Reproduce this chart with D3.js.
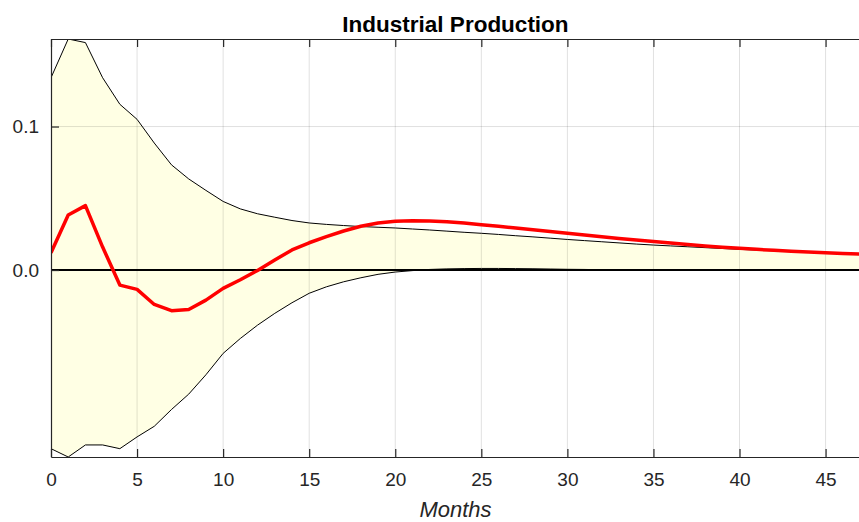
<!DOCTYPE html>
<html>
<head>
<meta charset="utf-8">
<script src="https://cdn.jsdelivr.net/npm/d3@7"></script>
<style>
  html, body { margin: 0; padding: 0; background: #ffffff; }
  svg { display: block; font-family: "Liberation Sans", Arial, Helvetica, sans-serif; }
</style>
</head>
<body>
<svg id="chart" width="859" height="522"></svg>
<script>
// Impulse response of industrial production, with its confidence band
const months = d3.range(0, 48);

const response = [
  0.0121, 0.0384, 0.0449, 0.0160, -0.0105, -0.0135, -0.0240, -0.0283, -0.0275, -0.0210,
  -0.0128, -0.0068, -0.0003, 0.0070, 0.0140, 0.0190, 0.0233, 0.0272, 0.0305, 0.0328,
  0.0340, 0.0344, 0.0342, 0.0336, 0.0327, 0.0316, 0.0305, 0.0293, 0.0281, 0.0268,
  0.0256, 0.0244, 0.0232, 0.0220, 0.0209, 0.0198, 0.0188, 0.0178, 0.0168, 0.0159,
  0.0151, 0.0144, 0.0137, 0.0131, 0.0126, 0.0121, 0.0116, 0.0111
];

const upperBand = [
  0.1340, 0.1610, 0.1585, 0.1340, 0.1155, 0.1050, 0.0885, 0.0733, 0.0635, 0.0555,
  0.0478, 0.0426, 0.0392, 0.0368, 0.0345, 0.0328, 0.0318, 0.0310, 0.0303, 0.0298,
  0.0293, 0.0286, 0.0279, 0.0271, 0.0263, 0.0256, 0.0248, 0.0239, 0.0231, 0.0222,
  0.0213, 0.0205, 0.0197, 0.0189, 0.0181, 0.0174, 0.0168, 0.0162, 0.0156, 0.0150,
  0.0144, 0.0139, 0.0134, 0.0129, 0.0124, 0.0119, 0.0115, 0.0110
];

const lowerBand = [
  -0.1245, -0.1303, -0.1219, -0.1219, -0.1245, -0.1163, -0.1089, -0.0972, -0.0865, -0.0730,
  -0.0581, -0.0477, -0.0384, -0.0302, -0.0228, -0.0162, -0.0117, -0.0082, -0.0054, -0.0030,
  -0.0014, -0.0004, 0.0004, 0.0008, 0.0010, 0.0011, 0.0011, 0.0010, 0.0009, 0.0007,
  0.0005, 0.0004, 0.0002, 0.0001, 0.0000, -0.0001, -0.0001, -0.0001, -0.0002, -0.0002,
  -0.0002, -0.0002, -0.0003, -0.0003, -0.0003, -0.0003, -0.0003, -0.0003
];

const xTicks = [0, 5, 10, 15, 20, 25, 30, 35, 40, 45];
const yTicks = [0, 0.1];
const yTickLabels = ["0.0", "0.1"];

const titleText = "Industrial Production";
const xLabelText = "Months";

const svg = d3.select("#chart");
const margin = { left: 51, right: -1, top: 39, bottom: 65 };
const W = 859, H = 522;
const x0 = margin.left, x1 = W - margin.right;
const y0 = margin.top, y1 = H - margin.bottom;

const x = d3.scaleLinear().domain([0, 47]).range([x0, x1]);
const y = d3.scaleLinear()
  .domain([d3.min(lowerBand), d3.max(upperBand)])
  .range([y1, y0]);

const axisColor = "#262626";

svg.append("defs").append("clipPath").attr("id", "plotClip")
  .append("rect").attr("x", x0).attr("y", y0).attr("width", x1 - x0).attr("height", y1 - y0);

const plot = svg.append("g").attr("clip-path", "url(#plotClip)");

// confidence band
const band = d3.area()
  .x((d, i) => x(months[i]))
  .y0((d, i) => y(lowerBand[i]))
  .y1((d, i) => y(upperBand[i]));
plot.append("path").datum(months).attr("d", band)
  .attr("fill", "#ffffe4").attr("stroke", "none");

// grid lines
plot.selectAll("line.vgrid").data(xTicks).join("line")
  .attr("class", "vgrid")
  .attr("x1", d => x(d)).attr("x2", d => x(d))
  .attr("y1", y0).attr("y2", y1)
  .attr("stroke", "#000").attr("stroke-opacity", 0.12).attr("stroke-width", 1);
plot.selectAll("line.hgrid").data(yTicks).join("line")
  .attr("class", "hgrid")
  .attr("x1", x0).attr("x2", x1)
  .attr("y1", d => y(d)).attr("y2", d => y(d))
  .attr("stroke", "#000").attr("stroke-opacity", 0.12).attr("stroke-width", 1);

// band edges
const edge = arr => d3.line().x((d, i) => x(months[i])).y((d, i) => y(arr[i]));
plot.append("path").datum(months).attr("d", edge(upperBand))
  .attr("fill", "none").attr("stroke", "#000").attr("stroke-width", 1);
plot.append("path").datum(months).attr("d", edge(lowerBand))
  .attr("fill", "none").attr("stroke", "#000").attr("stroke-width", 1);

// zero line
plot.append("line")
  .attr("x1", x0).attr("x2", x1).attr("y1", y(0)).attr("y2", y(0))
  .attr("stroke", "#000").attr("stroke-width", 2);

// response
plot.append("path").datum(months).attr("d", edge(response))
  .attr("fill", "none").attr("stroke", "#ff0000").attr("stroke-width", 3.5)
  .attr("stroke-linejoin", "round");

// axes
const xAxis = d3.axisBottom(x).tickValues(xTicks).tickSizeInner(-8).tickSizeOuter(0).tickPadding(16);
const gx = svg.append("g").attr("transform", `translate(0,${y1})`).call(xAxis);
const xTop = d3.axisTop(x).tickValues(xTicks).tickSizeInner(-8).tickSizeOuter(0).tickFormat("");
const gxt = svg.append("g").attr("transform", `translate(0,${y0})`).call(xTop);
const yAxis = d3.axisLeft(y).tickValues(yTicks).tickSizeInner(-8).tickSizeOuter(0).tickPadding(12)
  .tickFormat((d, i) => yTickLabels[i]);
const gy = svg.append("g").attr("transform", `translate(${x0},0)`).call(yAxis);

[gx, gxt, gy].forEach(g => {
  g.select(".domain").attr("stroke", axisColor).attr("stroke-width", 1.2);
  g.selectAll(".tick line").attr("stroke", axisColor).attr("stroke-width", 1.2);
  g.selectAll(".tick text").attr("fill", axisColor)
    .style("font-size", "19px").style("font-family", "'Liberation Sans', Arial, sans-serif");
});
gx.selectAll(".tick text").attr("dy", "0.71em");

// title and axis label
svg.append("text")
  .attr("x", (x0 + x1) / 2).attr("y", 32)
  .attr("text-anchor", "middle")
  .style("font-size", "22.5px").style("font-weight", "bold")
  .attr("fill", "#000")
  .text(titleText);

svg.append("text")
  .attr("x", (x0 + x1) / 2).attr("y", 517)
  .attr("text-anchor", "middle")
  .style("font-size", "22px").style("font-style", "italic")
  .attr("fill", axisColor)
  .text(xLabelText);
</script>
</body>
</html>
